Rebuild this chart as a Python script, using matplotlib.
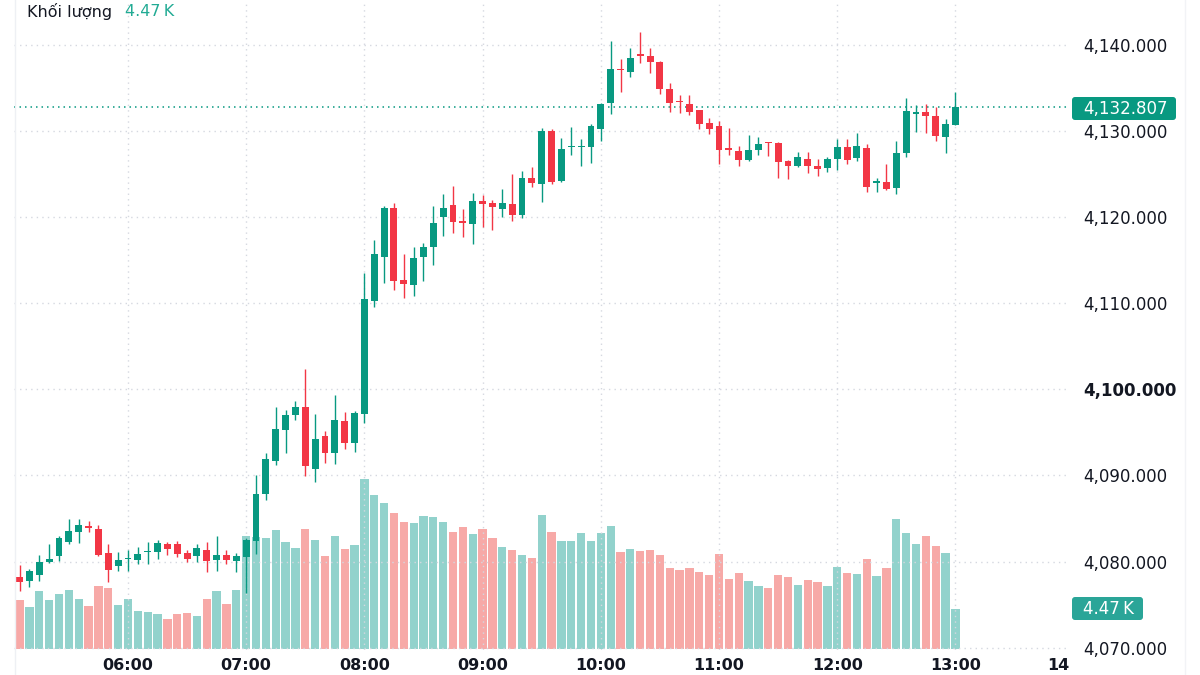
import matplotlib
matplotlib.use("Agg")
import matplotlib.pyplot as plt
import matplotlib.patches as mpatches
import matplotlib.transforms as mtransforms
import pandas as pd

# ---------------- data ----------------
times = [t.strftime("%H:%M") for t in pd.date_range("2024-01-01 05:05", "2024-01-01 13:00", freq="5min")]

opens = [4078.2, 4077.75, 4078.4, 4079.9, 4080.6, 4082.3, 4083.4, 4084.1, 4083.75, 4080.95,
         4079.5, 4080.3, 4080.2, 4081.1, 4081.15, 4082.1, 4082.0, 4080.95, 4080.6, 4081.35,
         4080.2, 4080.8, 4080.1, 4080.5, 4082.4, 4087.85, 4091.7, 4095.3, 4097.0, 4097.9,
         4090.75, 4094.6, 4092.6, 4096.3, 4093.75, 4097.2, 4110.3, 4115.4, 4121.1, 4112.7,
         4112.1, 4115.35, 4116.5, 4120.0, 4121.4, 4119.6, 4119.2, 4121.9, 4121.6, 4120.95,
         4121.5, 4120.25, 4124.6, 4123.9, 4130.05, 4124.2, 4128.1, 4128.1, 4128.1, 4130.25,
         4133.3, 4137.25, 4136.9, 4138.9, 4138.7, 4138.05, 4134.85, 4133.55, 4133.2, 4132.45,
         4130.9, 4130.6, 4128.05, 4127.7, 4126.65, 4127.8, 4128.7, 4128.6, 4126.5, 4125.95,
         4126.75, 4126.0, 4125.75, 4126.75, 4128.1, 4126.9, 4128.0, 4123.95, 4124.1, 4123.45,
         4127.45, 4132.0, 4132.25, 4131.75, 4129.35, 4130.7]
highs = [4079.6, 4079.1, 4080.8, 4082.1, 4083.0, 4085.0, 4084.9, 4084.75, 4084.25, 4082.05,
         4081.1, 4081.35, 4081.7, 4082.3, 4082.5, 4082.3, 4082.4, 4081.4, 4082.0, 4082.25,
         4083.0, 4081.3, 4081.0, 4082.75, 4090.05, 4092.6, 4098.0, 4097.6, 4098.7, 4102.4,
         4097.1, 4095.2, 4099.3, 4097.35, 4097.5, 4113.5, 4117.35, 4121.3, 4121.6, 4115.7,
         4116.5, 4117.05, 4121.3, 4122.7, 4123.65, 4121.0, 4122.8, 4122.6, 4122.0, 4123.3,
         4125.0, 4125.4, 4125.85, 4130.4, 4130.2, 4129.2, 4130.45, 4129.05, 4130.8, 4133.3,
         4140.45, 4138.35, 4139.7, 4141.5, 4139.6, 4138.1, 4135.6, 4134.2, 4134.2, 4132.5,
         4131.55, 4131.2, 4130.4, 4128.25, 4129.55, 4129.3, 4128.75, 4128.75, 4126.7, 4127.6,
         4127.6, 4126.8, 4127.05, 4129.1, 4129.05, 4129.8, 4128.45, 4124.5, 4126.2, 4128.8,
         4133.9, 4133.0, 4133.1, 4132.75, 4131.35, 4134.5]
lows = [4076.6, 4077.0, 4077.8, 4079.8, 4080.1, 4082.1, 4082.2, 4083.4, 4080.65, 4077.65,
        4078.9, 4078.9, 4079.7, 4079.7, 4080.25, 4080.75, 4080.5, 4079.9, 4079.9, 4078.8,
        4078.95, 4079.7, 4078.8, 4076.3, 4080.9, 4087.15, 4091.2, 4092.6, 4096.4, 4089.9,
        4089.2, 4091.4, 4091.3, 4093.1, 4092.75, 4096.1, 4109.6, 4112.4, 4111.6, 4110.65,
        4110.9, 4112.6, 4114.45, 4117.8, 4118.2, 4117.75, 4116.85, 4118.9, 4118.5, 4120.05,
        4119.6, 4119.9, 4123.5, 4121.8, 4123.9, 4124.1, 4127.2, 4126.0, 4126.3, 4128.9,
        4131.95, 4134.6, 4136.3, 4137.9, 4136.7, 4134.3, 4132.25, 4132.05, 4131.9, 4130.3,
        4129.65, 4126.2, 4127.2, 4125.95, 4126.55, 4127.2, 4127.1, 4124.6, 4124.4, 4125.8,
        4125.1, 4124.8, 4125.2, 4125.5, 4126.15, 4126.55, 4122.95, 4122.9, 4123.15, 4122.7,
        4126.95, 4129.85, 4129.75, 4128.9, 4127.5, 4130.7]
closes = [4077.6, 4078.85, 4079.9, 4080.3, 4082.7, 4083.5, 4084.3, 4083.95, 4080.8, 4079.0,
          4080.2, 4080.45, 4080.85, 4081.25, 4082.2, 4081.45, 4080.85, 4080.25, 4081.6, 4080.1,
          4080.8, 4080.15, 4080.6, 4082.45, 4087.9, 4091.9, 4095.35, 4097.0, 4097.9, 4091.15,
          4094.25, 4092.6, 4096.45, 4093.8, 4097.25, 4110.5, 4115.7, 4121.1, 4112.6, 4112.2,
          4115.3, 4116.55, 4119.35, 4121.05, 4119.5, 4119.3, 4121.9, 4121.5, 4121.2, 4121.7,
          4120.2, 4124.5, 4124.0, 4130.0, 4124.1, 4127.9, 4128.3, 4128.3, 4130.6, 4133.2,
          4137.2, 4137.1, 4138.5, 4138.7, 4138.0, 4134.9, 4133.3, 4133.4, 4132.25, 4130.8,
          4130.3, 4127.8, 4127.85, 4126.65, 4127.8, 4128.5, 4128.6, 4126.45, 4126.0, 4127.0,
          4125.95, 4125.55, 4126.75, 4128.1, 4126.65, 4128.3, 4123.55, 4124.2, 4123.25, 4127.45,
          4132.35, 4132.25, 4131.75, 4129.45, 4130.8, 4132.807]
volumes_k = [5.48, 4.73, 6.52, 5.48, 6.11, 6.59, 5.59, 4.81, 7.04, 6.85,
             4.92, 5.59, 4.28, 4.10, 3.88, 3.32, 3.88, 4.06, 3.72, 5.59,
             6.52, 5.03, 6.59, 12.63, 12.48, 12.46, 13.30, 11.96, 11.26, 13.38,
             12.18, 10.43, 12.66, 11.14, 11.62, 19.00, 17.21, 16.28, 15.23, 14.16,
             14.06, 14.90, 14.72, 14.23, 13.07, 13.60, 12.85, 13.41, 12.37, 11.43,
             11.06, 10.47, 10.20, 14.97, 13.07, 12.04, 12.10, 13.02, 12.10, 13.02,
             13.75, 10.87, 11.18, 10.95, 11.06, 10.54, 9.02, 8.83, 9.02, 8.64,
             8.30, 10.62, 7.86, 8.49, 7.60, 7.07, 6.85, 8.30, 8.01, 7.15,
             7.71, 7.52, 7.04, 9.13, 8.49, 8.38, 10.06, 8.19, 9.02, 14.56,
             12.96, 11.73, 12.63, 11.54, 10.73, 4.47]

hour_labels = ["06:00", "07:00", "08:00", "09:00", "10:00", "11:00", "12:00", "13:00", "14"]
price_ticks = [4070, 4080, 4090, 4100, 4110, 4120, 4130, 4140]
bold_tick = 4100
last_price = 4132.807
last_volume_label = "4.47\u2009K"
volume_title = "Khối lượng"

# ---------------- style ----------------
UP = "#089981"
DOWN = "#f23645"
UP_VOL = "#92d2cc"
DOWN_VOL = "#f7a9a7"
GRID = "#d5d8e0"
TEXT = "#131722"

W, H = 1200, 675
fig = plt.figure(figsize=(12, 6.75), dpi=100)
fig.patch.set_facecolor("white")

left_px, right_px, bottom_px = 14, 1070, 650
rect = [left_px / W, 1 - bottom_px / H, (right_px - left_px) / W, bottom_px / H]
ax_vol = fig.add_axes(rect)
ax = fig.add_axes(rect, facecolor="none")

n = len(times)
xs = list(range(n))
t0 = pd.Timestamp("2024-01-01 " + times[0])
def time_pos(label):
    if ":" not in label:
        label = label + ":00"
    return (pd.Timestamp("2024-01-01 " + label) - t0).total_seconds() / 300.0

xlim = (-0.57, 106.63)
ylim = (4069.73, 4145.23)

# volume bars
vcols = [UP_VOL if c >= o else DOWN_VOL for o, c in zip(opens, closes)]
ax_vol.bar(xs, volumes_k, width=0.84, color=vcols, linewidth=0)
ax_vol.set_xlim(*xlim)
ax_vol.set_ylim(-0.1, 72.5)
ax_vol.axis("off")

# grid on top axes
for p in price_ticks:
    ax.axhline(p, color=GRID, lw=1.0, ls=(0, (1, 3)), zorder=0)
for lab in hour_labels:
    ax.axvline(time_pos(lab), color=GRID, lw=1.0, ls=(0, (1, 3)), zorder=0)

# candles
ccols = [UP if c >= o else DOWN for o, c in zip(opens, closes)]
ax.vlines(xs, lows, highs, colors=ccols, lw=1.0, zorder=2)
bottoms = [min(o, c) for o, c in zip(opens, closes)]
heights = [max(abs(c - o), 0.13) for o, c in zip(opens, closes)]
ax.bar(xs, heights, bottom=bottoms, width=0.7, color=ccols, linewidth=0, zorder=3)

# last price line
ax.axhline(last_price, color=UP, lw=1.1, ls=(0, (1, 2.6)), zorder=1)

ax.set_xlim(*xlim)
ax.set_ylim(*ylim)
for s in ax.spines.values():
    s.set_visible(False)
ax.set_xticks([])
ax.yaxis.tick_right()
ax.set_yticks(price_ticks)
ax.set_yticklabels([f"{p:,.3f}" for p in price_ticks])
ax.tick_params(axis="y", length=0, pad=9.4, labelsize=12, labelcolor=TEXT)
for lbl, p in zip(ax.get_yticklabels(), price_ticks):
    if p == bold_tick:
        lbl.set_fontweight("bold")

# faint panel borders
fig.add_artist(plt.Line2D([15 / W, 15 / W], [0, 1], color="#eef0f4", lw=1, transform=fig.transFigure))
fig.add_artist(plt.Line2D([1185 / W, 1185 / W], [0, 1], color="#f2f3f6", lw=1, transform=fig.transFigure))

# time labels
blend = mtransforms.blended_transform_factory(ax.transData, fig.transFigure)
for lab in hour_labels:
    if ":" in lab:
        fig.text(time_pos(lab), 4.5 / H, lab, transform=blend, ha="center", va="baseline",
                 fontsize=11.5, fontweight="bold", color=TEXT, zorder=4)
    else:
        # partially hidden last label: left-aligned where "HH:00" would start
        off = mtransforms.offset_copy(blend, fig=fig, x=-26, y=0, units="dots")
        fig.text(time_pos(lab), 4.5 / H, lab, transform=off, ha="left", va="baseline",
                 fontsize=11.5, fontweight="bold", color=TEXT, zorder=4)

# header
fig.text(27 / W, 1 - 12 / H, volume_title, fontsize=11.5, color=TEXT, va="center", ha="left")
fig.text(125 / W, 1 - 12 / H, last_volume_label, fontsize=11.5, color="#22ab94", va="center", ha="left")

# price label boxes
def label_box(y_top_px, w_px, text, fc):
    h_px = 23
    box = mpatches.FancyBboxPatch((1072 / 100, (H - y_top_px - h_px) / 100), w_px / 100, h_px / 100,
                                  boxstyle="round,pad=0,rounding_size=0.03",
                                  transform=fig.dpi_scale_trans, fc=fc, ec="none", zorder=5)
    fig.patches.append(box)
    fig.text(1083 / W, 1 - (y_top_px + h_px / 2 + 0.5) / H, text, fontsize=12, color="white",
             ha="left", va="center", zorder=6)

label_box(97, 104, f"{last_price:,.3f}", UP)
label_box(597, 71, last_volume_label, "#2aa598")

fig.savefig("out.png", dpi=100, facecolor="white")
